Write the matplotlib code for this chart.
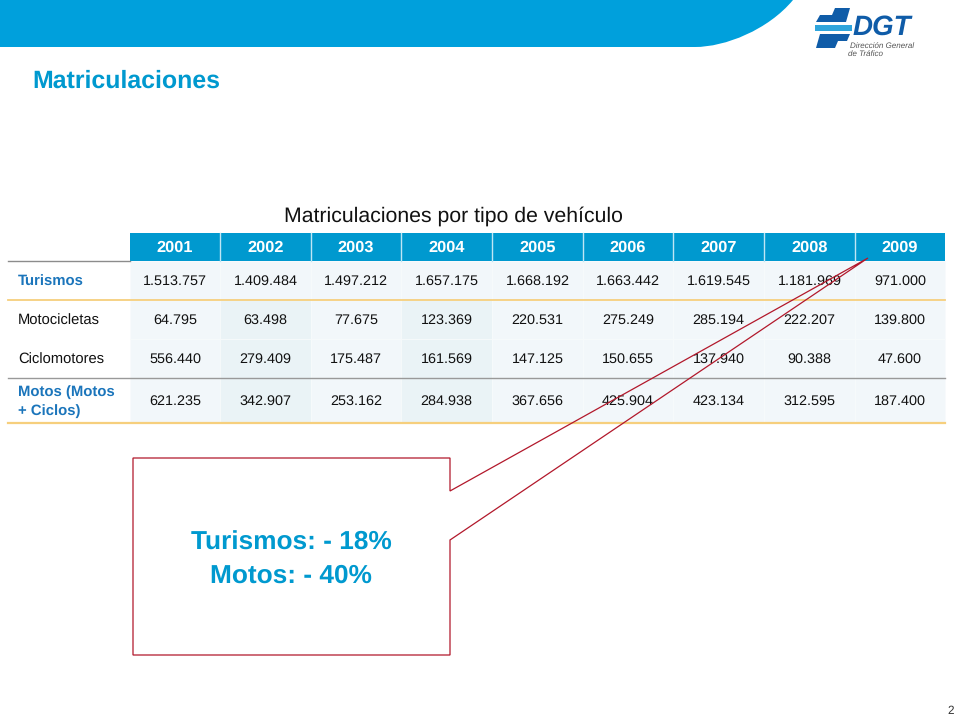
import matplotlib
matplotlib.use("Agg")
import matplotlib.pyplot as plt
from matplotlib.patches import Polygon, Rectangle, PathPatch
from matplotlib.path import Path

plt.rcParams['font.family'] = ['Liberation Sans', 'DejaVu Sans']
plt.rcParams['text.hinting'] = 'no_hinting'

years = ['2001', '2002', '2003', '2004', '2005', '2006', '2007', '2008', '2009']
row_labels = ['Turismos', 'Motocicletas', 'Ciclomotores', 'Motos (Motos\n+ Ciclos)']
turismos = ['1.513.757', '1.409.484', '1.497.212', '1.657.175', '1.668.192', '1.663.442', '1.619.545', '1.181.969', '971.000']
motocicletas = ['64.795', '63.498', '77.675', '123.369', '220.531', '275.249', '285.194', '222.207', '139.800']
ciclomotores = ['556.440', '279.409', '175.487', '161.569', '147.125', '150.655', '137.940', '90.388', '47.600']
motos = ['621.235', '342.907', '253.162', '284.938', '367.656', '425.904', '423.134', '312.595', '187.400']
rows = [turismos, motocicletas, ciclomotores, motos]
bold_rows = [True, False, False, True]

BLUE = '#0099CF'
LINK = '#1B75BB'
NAVY = '#0F5CA8'
RED = '#B2182B'

col_edges = [130, 220, 311, 401, 492, 583, 673, 764, 855, 945]
row_edges = [261, 300, 339, 378, 423]

fig = plt.figure(figsize=(9.6, 7.2), dpi=100)
ax = fig.add_axes([0, 0, 1, 1])
ax.set_xlim(0, 960)
ax.set_ylim(720, 0)
ax.axis('off')

# banner
banner = Path([(0, 0), (793, 0), (768, 30), (725, 47), (695, 47), (0, 47), (0, 0)],
              [Path.MOVETO, Path.LINETO, Path.CURVE4, Path.CURVE4, Path.CURVE4, Path.LINETO, Path.CLOSEPOLY])
ax.add_patch(PathPatch(banner, fc='#00A0DC', ec='none'))

# logo
ax.add_patch(Polygon([(835, 8), (850, 8), (846, 22), (816, 22), (820, 15), (832, 15)], fc=NAVY, ec='none'))
ax.add_patch(Rectangle((815, 25), 37, 6, fc='#2FA5DC', ec='none'))
ax.add_patch(Polygon([(820, 34), (850, 34), (847, 41), (838, 41), (835, 48), (816, 48)], fc=NAVY, ec='none'))
ax.text(853, 27, 'DGT', fontsize=20, fontweight='bold', style='italic', color=NAVY, va='center', ha='left')
ax.text(850, 45.5, 'Dirección General', fontsize=5.8, style='italic', color='#555555', va='center', ha='left')
ax.text(848, 53.5, 'de Tráfico', fontsize=5.8, style='italic', color='#555555', va='center', ha='left')

# titles
ax.text(32, 81.5, 'Matriculaciones', fontsize=17.9, fontweight='bold', color=BLUE, va='center', ha='left')
ax.text(453, 216.5, 'Matriculaciones por tipo de vehículo', fontsize=15.35, color='#111111', va='center', ha='center')

# table: body shading
for c in range(9):
    for r in range(4):
        dark = c in (1, 3) and r in (1, 2, 3)
        ax.add_patch(Rectangle((col_edges[c], row_edges[r]), col_edges[c + 1] - col_edges[c],
                               row_edges[r + 1] - row_edges[r],
                               fc='#EAF3F6' if dark else '#F2F7FA', ec='#F8FBFC', lw=0.5))
# header
for c, y in enumerate(years):
    ax.add_patch(Rectangle((col_edges[c], 233), col_edges[c + 1] - col_edges[c], 28, fc=BLUE, ec='none'))
    if c:
        ax.plot([col_edges[c]] * 2, [233, 261], color='#BFE6F5', lw=1)
    ax.text((col_edges[c] + col_edges[c + 1]) / 2, 247.5, y, fontsize=11.8, fontweight='bold', color='white',
            va='center', ha='center')

# rules
ax.plot([8, 130], [261, 261], color='#8C8C8C', lw=1)
ax.plot([8, 945], [300, 300], color='#F6CF7D', lw=1.3)
ax.plot([8, 945], [378, 378], color='#999999', lw=1)
ax.plot([8, 945], [423, 423], color='#F6CF7D', lw=1.6)

# body text
for r, (lab, vals) in enumerate(zip(row_labels, rows)):
    cy = (row_edges[r] + row_edges[r + 1]) / 2 + 1
    bold = bold_rows[r]
    ax.text(18, cy, lab, fontsize=10.7 if bold else 10.6, fontweight='bold' if bold else 'normal',
            color=LINK if bold else '#111111', va='center', ha='left', linespacing=1.45)
    for c, v in enumerate(vals):
        ax.text((col_edges[c] + col_edges[c + 1]) / 2, cy, v, fontsize=10.4, color='#111111',
                va='center', ha='center')

# callout
ax.add_patch(Polygon([(133, 458), (450, 458), (450, 491), (868, 258), (450, 540), (450, 655), (133, 655)],
                     closed=True, fc='none', ec=RED, lw=0.9, zorder=5))
ax.text(291, 543.5, 'Turismos: - 18%', fontsize=18.9, fontweight='bold', color=BLUE, va='center', ha='center', zorder=6)
ax.text(291, 576, 'Motos: - 40%', fontsize=18.9, fontweight='bold', color=BLUE, va='center', ha='center', zorder=6)

ax.text(951, 711, '2', fontsize=8.5, color='#333333', va='center', ha='center')

fig.savefig('out.png', dpi=100)
